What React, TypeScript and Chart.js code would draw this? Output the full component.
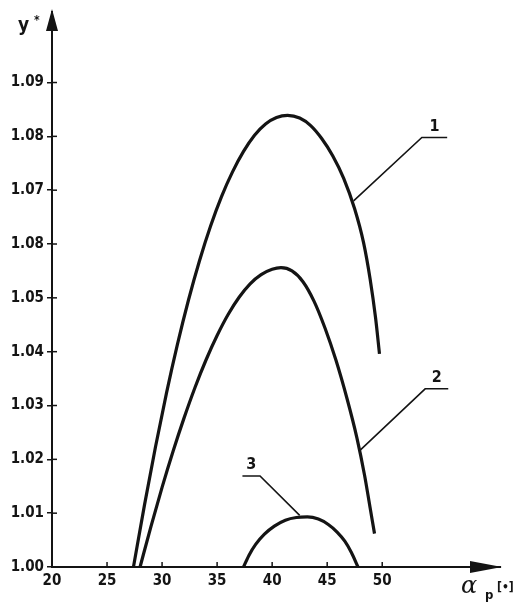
import React, { useEffect, useRef } from "react";
import { Chart, registerables } from "chart.js";

Chart.register(...registerables);

// ---- data ----
const xTickValues = [20, 25, 30, 35, 40, 45, 50];
const yTickValues = [1.0, 1.01, 1.02, 1.03, 1.04, 1.05, 1.06, 1.07, 1.08, 1.09];
const yTickLabels = ["1.00", "1.01", "1.02", "1.03", "1.04", "1.05", "1.08", "1.07", "1.08", "1.09"];

const curve1X = [27.4, 28.4, 29.4, 30.4, 31.4, 32.4, 33.4, 34.4, 35.4, 36.4, 37.4, 38.4, 39.4, 40.4, 41.4, 42.5, 43.5, 44.5, 45.5, 46.5, 47.5, 48.3, 48.9, 49.4, 49.75];
const curve1Y = [1.0, 1.0115, 1.0223, 1.0323, 1.0414, 1.0496, 1.0569, 1.0633, 1.0688, 1.0734, 1.0772, 1.0802, 1.0823, 1.0835, 1.0839, 1.0834, 1.082, 1.0796, 1.0764, 1.0722, 1.0665, 1.0603, 1.0535, 1.0462, 1.0396];

const curve2X = [28.0, 29.0, 30.0, 31.0, 32.0, 33.0, 34.0, 35.0, 36.0, 37.0, 38.0, 39.0, 40.0, 40.8, 41.8, 42.8, 43.8, 44.8, 45.8, 46.8, 47.7, 48.4, 48.9, 49.3];
const curve2Y = [1.0, 1.0076, 1.0148, 1.0215, 1.0277, 1.0334, 1.0385, 1.043, 1.0469, 1.0501, 1.0526, 1.0543, 1.0553, 1.0556, 1.055, 1.053, 1.0494, 1.0444, 1.0384, 1.0313, 1.024, 1.017, 1.011, 1.0062];

const curve3X = [37.4, 37.9, 38.5, 39.3, 40.2, 41.2, 42.2, 43.2, 44.2, 45.1, 45.9, 46.6, 47.2, 47.8];
const curve3Y = [1.0, 1.0022, 1.0042, 1.0061, 1.0076, 1.0087, 1.0092, 1.0093, 1.0089, 1.0079, 1.0065, 1.0048, 1.0027, 1.0];

const leader1X = [55.9, 53.6, 47.4];
const leader1Y = [1.0798, 1.0798, 1.068];
const leader2X = [56.0, 53.9, 48.0];
const leader2Y = [1.0331, 1.0331, 1.0217];
const leader3X = [37.3, 38.9, 42.5];
const leader3Y = [1.0169, 1.0169, 1.0096];

const curveLabels = ["1", "2", "3"];
const curveLabelX = [54.75, 54.95, 38.1];
const curveLabelY = [1.0798, 1.0331, 1.0169];

const xMin = 20;
const xMax = 60.7;
const yMin = 1.0;
const yMax = 1.1031;

const yAxisTitle = "y";
const yAxisTitleSup = "*";
const xAxisTitle = "α";
const xAxisTitleSub = "p";
const xAxisUnit = "[•]";

const zip = (xs: number[], ys: number[]) => xs.map((x, i) => ({ x, y: ys[i] }));

const INK = "#141414";
const NARROW = "'DejaVu Sans Condensed', 'Liberation Sans Narrow', 'DejaVu Sans', sans-serif";

const decorPlugin = {
  id: "decor",
  afterDraw(chart: any) {
    const ctx = chart.ctx;
    const xs = chart.scales.x;
    const ys = chart.scales.y;
    const left = chart.chartArea.left;
    const bottom = chart.chartArea.bottom;
    const right = chart.chartArea.right;
    const top = chart.chartArea.top;
    ctx.save();
    ctx.strokeStyle = INK;
    ctx.fillStyle = INK;
    // inner tick parts
    ctx.lineWidth = 1.5;
    yTickValues.forEach((v) => {
      if (v === yMin) return;
      const py = ys.getPixelForValue(v);
      ctx.beginPath();
      ctx.moveTo(left, py);
      ctx.lineTo(left + 5, py);
      ctx.stroke();
    });
    xTickValues.forEach((v) => {
      if (v === xMin) return;
      const px = xs.getPixelForValue(v);
      ctx.beginPath();
      ctx.moveTo(px, bottom);
      ctx.lineTo(px, bottom - 5);
      ctx.stroke();
    });
    // arrow heads
    ctx.beginPath();
    ctx.moveTo(left, top - 3);
    ctx.lineTo(left - 6, top + 19);
    ctx.lineTo(left + 6, top + 19);
    ctx.closePath();
    ctx.fill();
    ctx.beginPath();
    ctx.moveTo(right + 2, bottom);
    ctx.lineTo(right - 30, bottom - 6);
    ctx.lineTo(right - 30, bottom + 6);
    ctx.closePath();
    ctx.fill();
    // curve labels
    ctx.font = `bold 16px ${NARROW}`;
    ctx.textAlign = "center";
    ctx.textBaseline = "bottom";
    curveLabels.forEach((t, i) => {
      ctx.fillText(t, xs.getPixelForValue(curveLabelX[i]), ys.getPixelForValue(curveLabelY[i]) - 3);
    });
    // axis titles
    ctx.textAlign = "left";
    ctx.textBaseline = "alphabetic";
    ctx.font = `bold 19px ${NARROW}`;
    ctx.fillText(yAxisTitle, 18, 31);
    ctx.font = `bold 12px ${NARROW}`;
    ctx.fillText(yAxisTitleSup, 34, 24);
    ctx.font = "italic 24px 'DejaVu Serif', serif";
    ctx.fillText(xAxisTitle, 461, 593);
    ctx.font = `bold 13px ${NARROW}`;
    ctx.fillText(xAxisTitleSub, 485, 599);
    ctx.font = `bold 12px ${NARROW}`;
    ctx.fillText(xAxisUnit, 497, 591);
    ctx.restore();
  },
};

export default function App() {
  const ref = useRef<HTMLCanvasElement | null>(null);
  useEffect(() => {
    if (!ref.current) return;
    const curveStyle = {
      borderColor: INK,
      borderWidth: 3.2,
      pointRadius: 0,
      cubicInterpolationMode: "monotone" as const,
      fill: false,
      clip: false as any,
    };
    const leaderStyle = {
      borderColor: INK,
      borderWidth: 1.6,
      pointRadius: 0,
      tension: 0,
      fill: false,
      clip: false as any,
    };
    const chart = new Chart(ref.current, {
      type: "line",
      data: {
        datasets: [
          { label: "1", data: zip(curve1X, curve1Y), ...curveStyle },
          { label: "2", data: zip(curve2X, curve2Y), ...curveStyle },
          { label: "3", data: zip(curve3X, curve3Y), ...curveStyle },
          { label: "l1", data: zip(leader1X, leader1Y), ...leaderStyle },
          { label: "l2", data: zip(leader2X, leader2Y), ...leaderStyle },
          { label: "l3", data: zip(leader3X, leader3Y), ...leaderStyle },
        ] as any,
      },
      options: {
        responsive: false,
        animation: false,
        devicePixelRatio: 1,
        layout: { padding: { left: 8, top: 10, right: 18, bottom: 8 } },
        plugins: { legend: { display: false }, tooltip: { enabled: false } },
        scales: {
          x: {
            type: "linear",
            min: xMin,
            max: xMax,
            afterBuildTicks: (s: any) => {
              s.ticks = xTickValues.map((v) => ({ value: v }));
            },
            afterFit: (s: any) => {
              s.height = 30;
            },
            ticks: {
              color: INK,
              padding: 5,
              maxRotation: 0,
              autoSkip: false,
              font: { family: NARROW, size: 15, weight: "bold" },
              callback: (v: any) => String(v),
            },
            grid: { display: false, drawOnChartArea: false, drawTicks: false },
            border: { display: true, color: INK, width: 2 },
          },
          y: {
            type: "linear",
            min: yMin,
            max: yMax,
            afterBuildTicks: (s: any) => {
              s.ticks = yTickValues.map((v) => ({ value: v }));
            },
            afterFit: (s: any) => {
              s.width = 44;
            },
            ticks: {
              color: INK,
              padding: 3,
              autoSkip: false,
              font: { family: NARROW, size: 15, weight: "bold" },
              callback: (_v: any, i: number) => yTickLabels[i],
            },
            grid: {
              display: true,
              drawOnChartArea: false,
              drawTicks: true,
              tickLength: 5,
              color: INK,
              lineWidth: 1.5,
            },
            border: { display: true, color: INK, width: 2 },
          },
        },
      },
      plugins: [decorPlugin],
    });
    return () => chart.destroy();
  }, []);
  return (
    <div style={{ position: "absolute", left: 0, top: 0, width: 518, height: 605, background: "#fff" }}>
      <canvas ref={ref} width={518} height={605} style={{ display: "block" }} />
    </div>
  );
}
